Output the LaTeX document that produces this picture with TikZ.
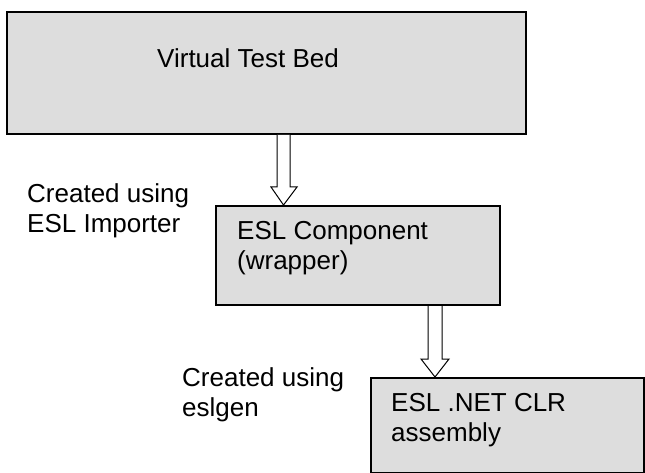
\documentclass[tikz,border=0pt]{standalone}
\usepackage{fontspec}
\setmainfont{Liberation Sans}
\usetikzlibrary{calc}
\definecolor{boxgray}{RGB}{221,221,221}
\begin{document}
\begin{tikzpicture}[x=1pt,y=-1pt,
  box/.style={draw=black,line width=2pt,fill=boxgray,anchor=north west,inner sep=0pt},
  lbl/.style={anchor=base west,inner sep=0pt,font=\fontsize{26}{30}\selectfont},
  blockarrow/.style={draw=black,line width=1pt,fill=white,line join=miter}]
\useasboundingbox (0,0) rectangle (645,473);
% boxes
\node[box,minimum width=519pt,minimum height=122pt] (vtb) at (6,11) {};
\node[box,minimum width=284pt,minimum height=99pt] (comp) at (215,205) {};
\node[box,minimum width=273pt,minimum height=95pt] (clr) at (370,377) {};
% texts
\node[lbl] (vtbtxt) at (157,68) {Virtual Test Bed};
\node[lbl] (comptxt) at (237,239) {\begin{tabular}[t]{@{}l@{}}ESL Component\\(wrapper)\end{tabular}};
\node[lbl] (clrtxt) at (391,411) {\begin{tabular}[t]{@{}l@{}}ESL .NET CLR\\assembly\end{tabular}};
\node[lbl] (imp) at (27,203) {\begin{tabular}[t]{@{}l@{}}Created using\\ESL Importer\end{tabular}};
\node[lbl] (gen) at (182,386) {\begin{tabular}[t]{@{}l@{}}Created using\\eslgen\end{tabular}};
% block arrows
\coordinate (a1s) at (vtb.south -| 283.5,0);
\coordinate (a1t) at (comp.north -| 283.5,0);
\draw[blockarrow] ($(a1s)+(-6.5,0)$) -- ($(a1t)+(-6.5,-18)$) -- ($(a1t)+(-12.5,-18)$) -- (a1t)
  -- ($(a1t)+(13.5,-18)$) -- ($(a1t)+(6.5,-18)$) -- ($(a1s)+(6.5,0)$);
\coordinate (a2s) at (comp.south -| 435,0);
\coordinate (a2t) at (clr.north -| 435,0);
\draw[blockarrow] ($(a2s)+(-7,0)$) -- ($(a2t)+(-7,-18)$) -- ($(a2t)+(-14,-18)$) -- (a2t)
  -- ($(a2t)+(14,-18)$) -- ($(a2t)+(7,-18)$) -- ($(a2s)+(7,0)$);
\end{tikzpicture}
\end{document}
